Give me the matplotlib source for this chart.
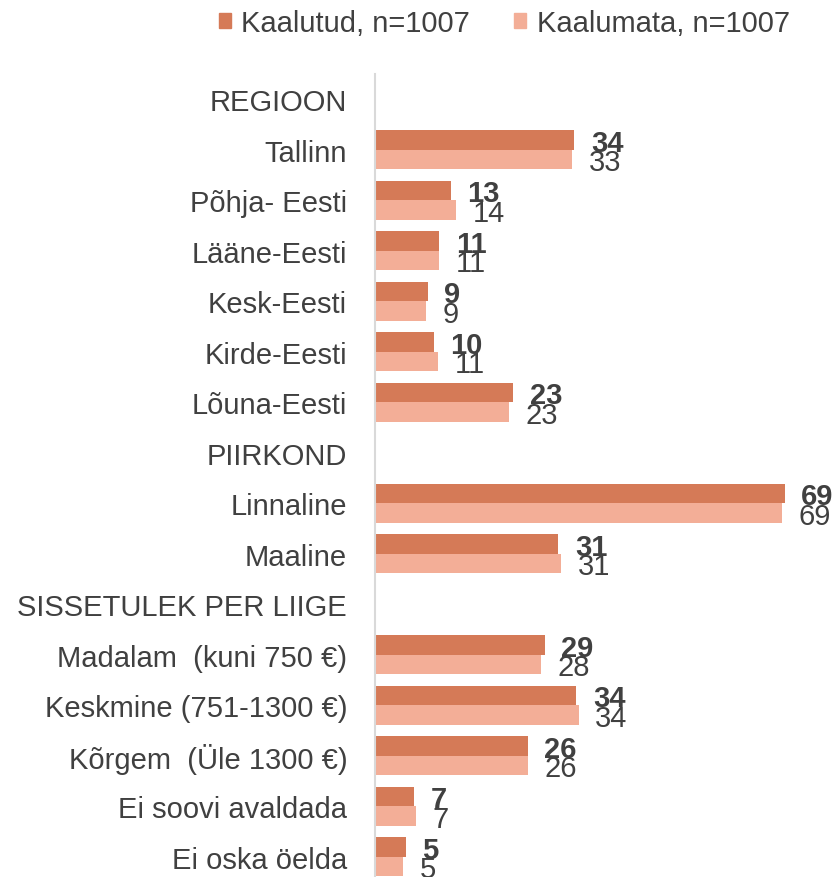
import matplotlib.pyplot as plt
import numpy as np

plt.rcParams['font.family'] = ['Liberation Sans', 'DejaVu Sans']

# rows of the chart, headers have no bars
labels = ["REGIOON", "Tallinn", "Põhja- Eesti", "Lääne-Eesti", "Kesk-Eesti",
          "Kirde-Eesti", "Lõuna-Eesti", "PIIRKOND", "Linnaline", "Maaline",
          "SISSETULEK PER LIIGE", "Madalam  (kuni 750 €)", "Keskmine (751-1300 €)",
          "Kõrgem  (Üle 1300 €)", "Ei soovi avaldada", "Ei oska öelda"]
kaalutud = [None, 33.6, 12.75, 10.8, 8.9, 9.9, 23.3, None, 69.0, 30.9,
            None, 28.6, 33.9, 25.7, 6.6, 5.2]
kaalumata = [None, 33.2, 13.6, 10.8, 8.6, 10.6, 22.6, None, 68.6, 31.4,
             None, 27.9, 34.3, 25.7, 6.9, 4.8]

c_dark = '#D57A57'
c_light = '#F3AE97'
txt = '#404040'

fig = plt.figure(figsize=(8.35, 8.78), dpi=100)
ax = fig.add_axes([375 / 835, 0, 1 - 375 / 835, 1 - 75 / 878])

y = np.arange(len(labels))
h = 0.386
for i in range(len(labels)):
    if kaalutud[i] is None:
        continue
    ax.barh(y[i] - h / 2, kaalutud[i], height=h, color=c_dark)
    ax.barh(y[i] + h / 2, kaalumata[i], height=h, color=c_light)
    ax.annotate(f"{kaalutud[i]:.0f}", (kaalutud[i], y[i] - h / 2), xytext=(12, -7.6),
                textcoords='offset points', va='baseline', ha='left',
                fontsize=21, fontweight='bold', color=txt)
    ax.annotate(f"{kaalumata[i]:.0f}", (kaalumata[i], y[i] + h / 2), xytext=(12, -7.6),
                textcoords='offset points', va='baseline', ha='left',
                fontsize=21, color=txt)

ax.set_xlim(0, 460 / 5.935)
ax.set_ylim(15.40, -0.5)
ax.set_yticks(y)
ax.set_yticklabels(labels, fontsize=21, color=txt)
ax.tick_params(axis='y', length=0, pad=20)
ax.set_xticks([])
for s in ['top', 'right', 'bottom']:
    ax.spines[s].set_visible(False)
ax.spines['left'].set_color('#D9D9D9')
ax.spines['left'].set_linewidth(1.5)

handles = [plt.Rectangle((0, 0), 1, 1, color=c_dark),
           plt.Rectangle((0, 0), 1, 1, color=c_light)]
fig.legend(handles, ["Kaalutud, n=1007", "Kaalumata, n=1007"], loc='center',
           bbox_to_anchor=(0.604, 1 - 24 / 878), ncol=2, frameon=False,
           fontsize=21, labelcolor=txt, handlelength=0.42, handleheight=0.42,
           handletextpad=0.35, columnspacing=1.5, borderpad=0)

fig.savefig('out.png', dpi=100)
